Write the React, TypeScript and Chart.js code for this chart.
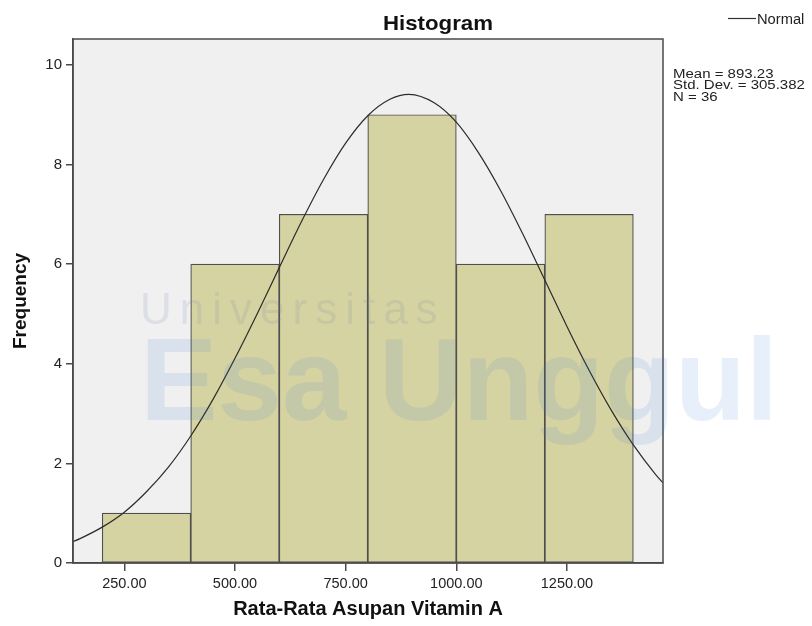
import React, { useEffect, useRef } from "react";
import { Chart, registerables } from "chart.js";

Chart.register(...registerables);

// Histogram bins (lower edge, upper edge) and frequencies
const binStarts = [200, 400, 600, 800, 1000, 1200];
const binEnds = [400, 600, 800, 1000, 1200, 1400];
const frequencies = [1, 6, 7, 9, 6, 7];

// Normal curve (x value, height in frequency units)
const curveX = [134, 150, 200, 250, 300, 350, 400, 450, 500, 550, 600, 650, 700, 750, 800, 850, 893, 950, 1000, 1050, 1100, 1150, 1200, 1250, 1300, 1350, 1400, 1450, 1467];
const curveY = [0.43, 0.49, 0.72, 1.02, 1.43, 1.93, 2.55, 3.28, 4.11, 5.0, 5.93, 6.85, 7.7, 8.43, 8.98, 9.31, 9.41, 9.24, 8.85, 8.24, 7.48, 6.61, 5.68, 4.75, 3.87, 3.07, 2.37, 1.78, 1.61];

const xTicks = [250, 500, 750, 1000, 1250];
const yTicks = [0, 2, 4, 6, 8, 10];

const chartTitle = "Histogram";
const xTitle = "Rata-Rata Asupan Vitamin A";
const yTitle = "Frequency";
const legendLabel = "Normal";
const statsLines = ["Mean = 893.23", "Std. Dev. = 305.382", "N = 36"];

const FONT = "'Liberation Sans', Arial, sans-serif";

export default function App() {
  const ref = useRef<HTMLCanvasElement | null>(null);

  useEffect(() => {
    if (!ref.current) return;

    const decor = {
      id: "decor",
      beforeDraw(chart: any) {
        const { ctx, chartArea: a } = chart;
        ctx.save();
        ctx.fillStyle = "#ffffff";
        ctx.fillRect(0, 0, chart.width, chart.height);
        ctx.fillStyle = "#f0f0f0";
        ctx.fillRect(a.left, a.top, a.right - a.left, a.bottom - a.top);
        ctx.restore();
      },
      afterDraw(chart: any) {
        const { ctx, chartArea: a } = chart;
        ctx.save();
        // frame
        ctx.strokeStyle = "#4a4a4a";
        ctx.lineWidth = 1.5;
        ctx.strokeRect(a.left, a.top, a.right - a.left, a.bottom - a.top);
        // title
        ctx.fillStyle = "#111";
        ctx.font = `bold 21px ${FONT}`;
        ctx.textAlign = "center";
        ctx.textBaseline = "alphabetic";
        ctx.save();
        ctx.translate(438, 30);
        ctx.scale(1.06, 1);
        ctx.fillText(chartTitle, 0, 0);
        ctx.restore();
        // legend
        ctx.strokeStyle = "#333";
        ctx.lineWidth = 1.2;
        ctx.beginPath();
        ctx.moveTo(728, 18.5);
        ctx.lineTo(756, 18.5);
        ctx.stroke();
        ctx.font = `14px ${FONT}`;
        ctx.textAlign = "left";
        ctx.fillStyle = "#222";
        ctx.save();
        ctx.translate(757, 23.5);
        ctx.scale(1.05, 1);
        ctx.fillText(legendLabel, 0, 0);
        ctx.restore();
        // stats
        ctx.font = `12px ${FONT}`;
        statsLines.forEach((s, i) => {
          ctx.save();
          ctx.translate(673, 77.5 + i * 11.5);
          ctx.scale(1.25, 1);
          ctx.fillText(s, 0, 0);
          ctx.restore();
        });
        // watermark
        ctx.globalAlpha = 0.12;
        ctx.fillStyle = "rgb(60,120,210)";
        ctx.font = `bold 116px ${FONT}`;
        ctx.fillText("Esa Unggul", 140, 420);
        ctx.globalAlpha = 0.15;
        ctx.fillStyle = "rgb(110,130,170)";
        ctx.font = `44px ${FONT}`;
        (ctx as any).letterSpacing = "8px";
        ctx.fillText("Universitas", 140, 324);
        ctx.restore();
      },
    };

    const chart = new Chart(ref.current, {
      type: "bar",
      data: {
        datasets: [
          {
            type: "line",
            label: legendLabel,
            data: curveX.map((x, i) => ({ x, y: curveY[i] })),
            borderColor: "#2b2b2b",
            borderWidth: 1.2,
            pointRadius: 0,
            cubicInterpolationMode: "monotone",
            fill: false,
            order: 0,
          } as any,
          {
            type: "bar",
            label: "Frequency",
            data: binStarts.map((s, i) => ({ x: (s + binEnds[i]) / 2, y: frequencies[i] })),
            backgroundColor: "#d6d3a2",
            borderColor: "#4f4f4f",
            borderWidth: 1.2,
            borderSkipped: false,
            barPercentage: 1,
            categoryPercentage: 1,
            order: 1,
          } as any,
        ],
      },
      plugins: [decor],
      options: {
        responsive: false,
        animation: false,
        layout: { padding: { top: 39, right: 149, bottom: 0, left: 0 } },
        plugins: { legend: { display: false }, tooltip: { enabled: false }, title: { display: false } },
        scales: {
          x: {
            type: "linear",
            position: "bottom",
            offset: false,
            min: 134,
            max: 1467,
            afterBuildTicks: (s: any) => {
              s.ticks = xTicks.map((v) => ({ value: v }));
            },
            afterFit: (s: any) => {
              s.height = 63;
            },
            grid: { display: true, offset: false, drawOnChartArea: false, drawTicks: true, tickLength: 8, color: "#4a4a4a", lineWidth: 1.5 },
            border: { display: true, color: "#4a4a4a", width: 1.5 },
            ticks: {
              autoSkip: false,
              maxRotation: 0,
              padding: 4,
              color: "#222",
              font: { family: FONT, size: 14.5 },
              callback: (v: any) => Number(v).toFixed(2),
            },
            title: {
              display: true,
              text: xTitle,
              color: "#111",
              font: { family: FONT, size: 20, weight: "bold" },
              padding: { top: 0, bottom: 5 },
            },
          },
          y: {
            type: "linear",
            min: 0,
            max: 10.52,
            afterBuildTicks: (s: any) => {
              s.ticks = yTicks.map((v) => ({ value: v }));
            },
            afterFit: (s: any) => {
              s.width = 73;
            },
            grid: { display: true, drawOnChartArea: false, drawTicks: true, tickLength: 7, color: "#4a4a4a", lineWidth: 1.5 },
            border: { display: true, color: "#4a4a4a", width: 1.5 },
            ticks: {
              padding: 4,
              color: "#222",
              font: { family: FONT, size: 15 },
            },
            title: {
              display: true,
              text: yTitle,
              color: "#111",
              font: { family: FONT, size: 19, weight: "bold" },
              padding: { top: 9, bottom: 0 },
            },
          },
        },
      } as any,
    });

    return () => chart.destroy();
  }, []);

  return (
    <div style={{ position: "fixed", left: 0, top: 0, width: 812, height: 626, background: "#fff" }}>
      <canvas ref={ref} width={812} height={626} />
    </div>
  );
}
